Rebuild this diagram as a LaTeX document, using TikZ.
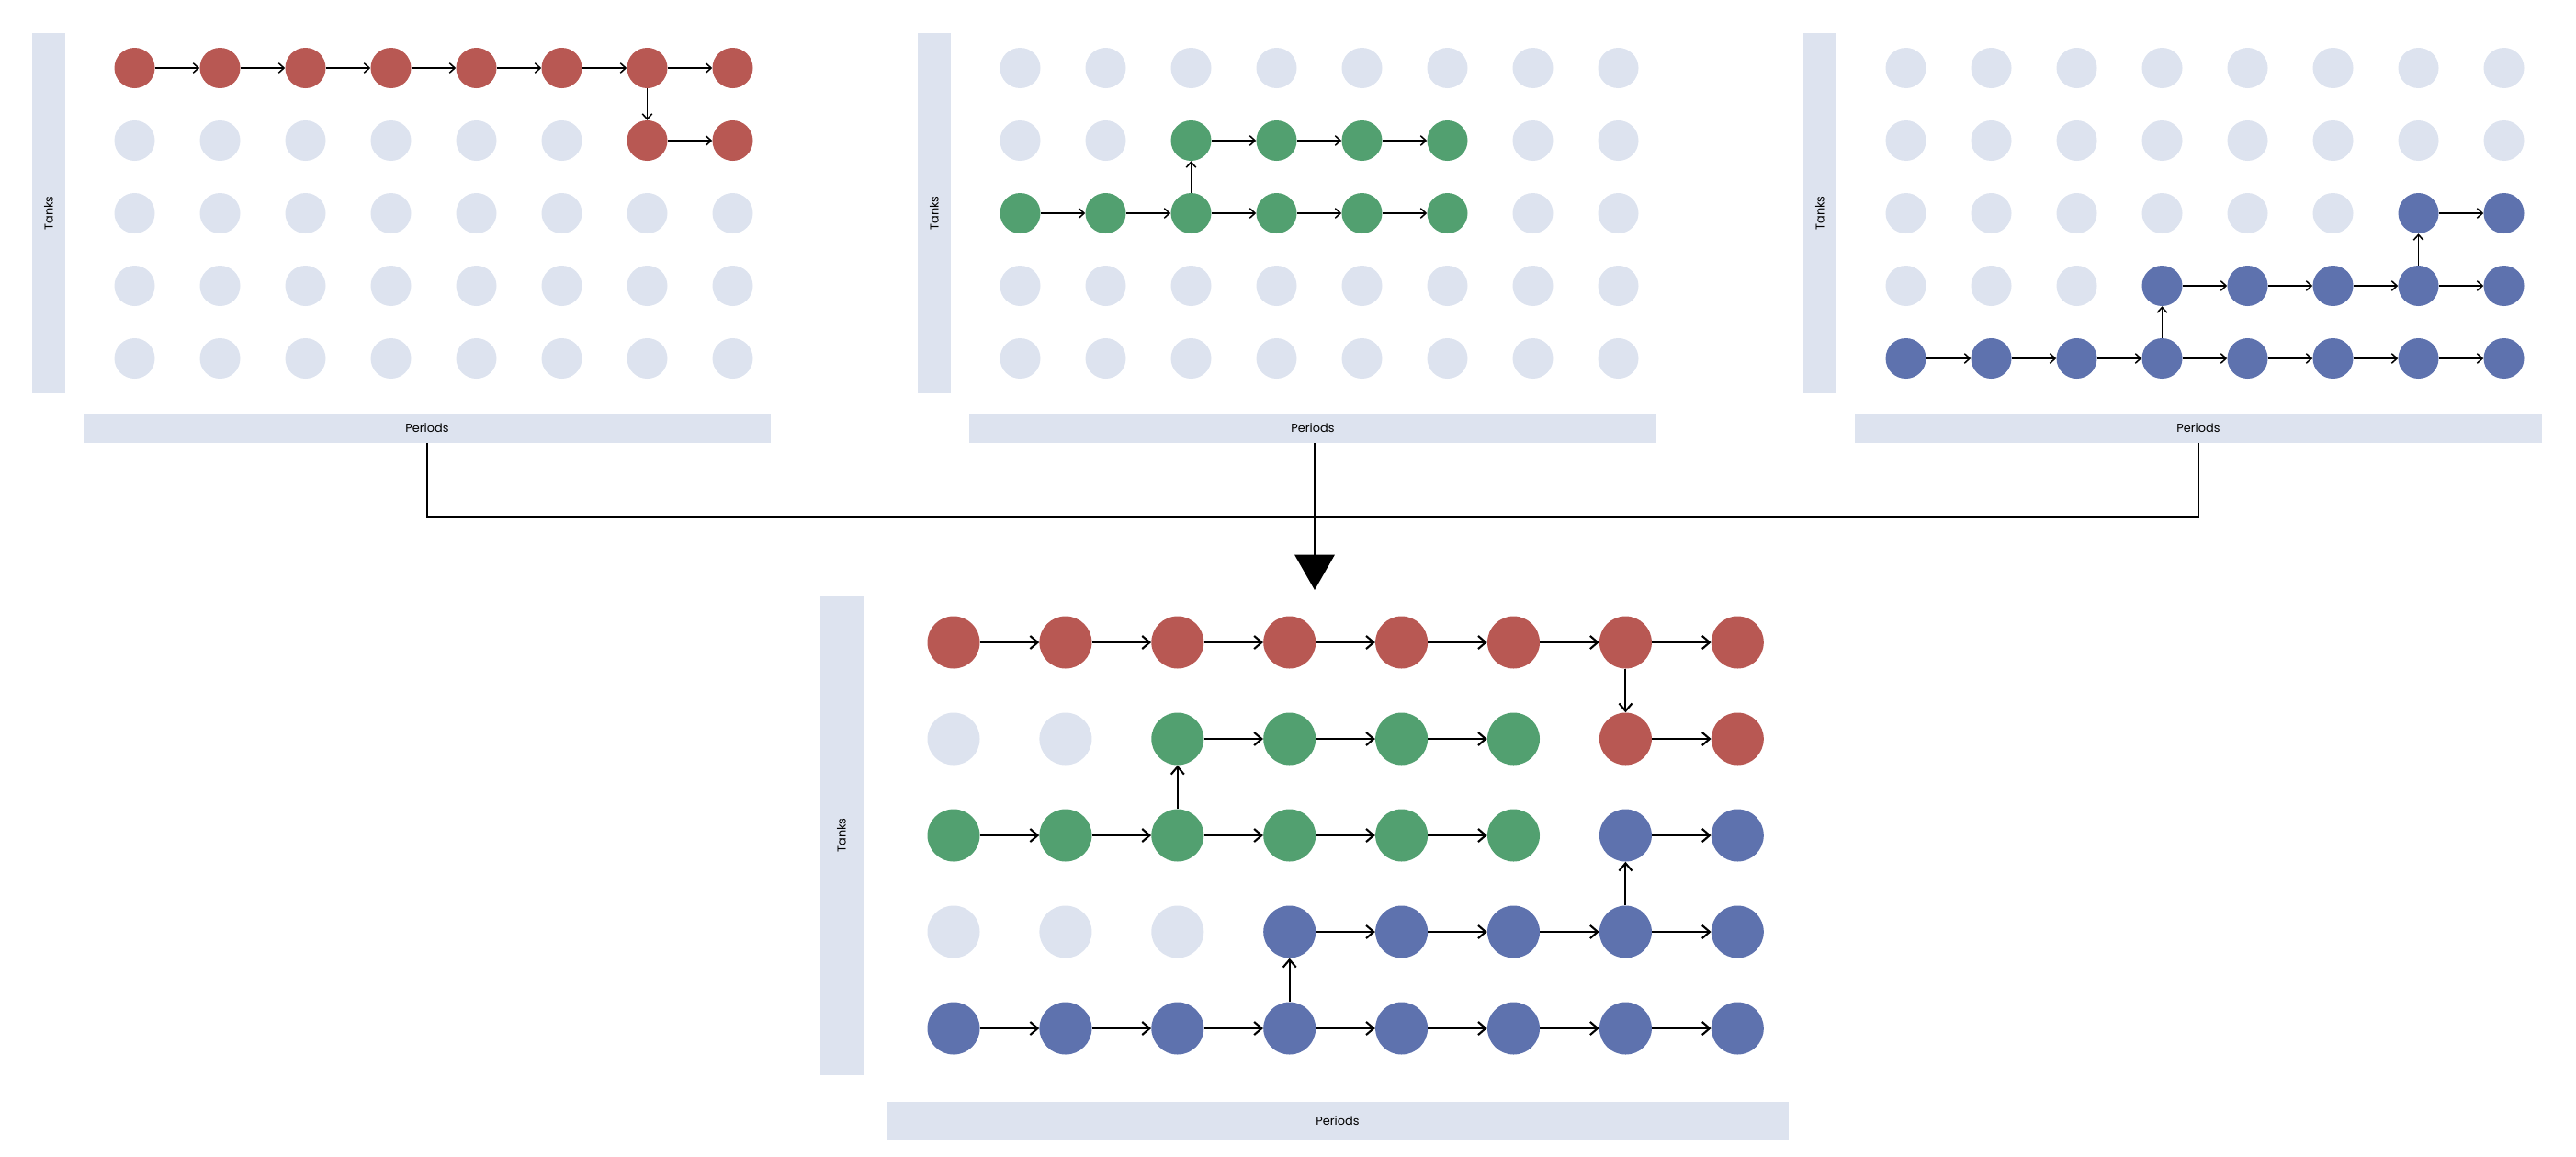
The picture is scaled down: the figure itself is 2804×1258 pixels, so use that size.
\documentclass[tikz,border=0pt]{standalone}
\usepackage{fontspec}
\setmainfont{Poppins}
\usetikzlibrary{arrows.meta}
\definecolor{cr}{HTML}{B85853}
\definecolor{cg}{HTML}{52A070}
\definecolor{cb}{HTML}{5E72AE}
\definecolor{cl}{HTML}{DDE3EF}
\begin{document}
\begin{tikzpicture}[x=0.03cm,y=-0.03cm,
  sdot/.style={circle,inner sep=0,minimum size=1.32cm,fill=#1},
  bdot/.style={circle,inner sep=0,minimum size=1.71cm,fill=#1},
  sarr/.style={-{Straight Barb[length=5pt,width=9pt]},line width=1.3pt},
  barr/.style={-{Straight Barb[length=7pt,width=12pt]},line width=1.8pt},
  bar/.style={fill=cl,draw=none},
  lab/.style={font=\fontsize{11}{13}\selectfont}]
\useasboundingbox (0,0) rectangle (2804,1258);
% ---- top panels
\foreach \k/\col in {0/cr,1/cg,2/cb}{
  \begin{scope}[shift={(964*\k,0)}]
  \fill[cl] (35,36) rectangle (71,428);
  \node[lab,rotate=90] (tk\k) at (53,232) {Tanks};
  \fill[cl] (91,450) rectangle (839,482);
  \node[lab] (pd\k) at (465,466) {Periods};
  \end{scope}
}
% grid definitions: 0 grey, 1 colour
\def\gridA{{1,1,1,1,1,1,1,1},{0,0,0,0,0,0,1,1},{0,0,0,0,0,0,0,0},{0,0,0,0,0,0,0,0},{0,0,0,0,0,0,0,0}}
\foreach \r/\row in {0/{1,1,1,1,1,1,1,1},1/{0,0,0,0,0,0,1,1},2/{0,0,0,0,0,0,0,0},3/{0,0,0,0,0,0,0,0},4/{0,0,0,0,0,0,0,0}}{
  \foreach \v [count=\c from 0] in \row{
    \ifnum\v=1 \node[sdot=cr] (a-\r-\c) at (146.5+93*\c,74+79*\r) {};
    \else \node[sdot=cl] (a-\r-\c) at (146.5+93*\c,74+79*\r) {}; \fi }}
\foreach \r/\row in {0/{0,0,0,0,0,0,0,0},1/{0,0,1,1,1,1,0,0},2/{1,1,1,1,1,1,0,0},3/{0,0,0,0,0,0,0,0},4/{0,0,0,0,0,0,0,0}}{
  \foreach \v [count=\c from 0] in \row{
    \ifnum\v=1 \node[sdot=cg] (b-\r-\c) at (1110.5+93*\c,74+79*\r) {};
    \else \node[sdot=cl] (b-\r-\c) at (1110.5+93*\c,74+79*\r) {}; \fi }}
\foreach \r/\row in {0/{0,0,0,0,0,0,0,0},1/{0,0,0,0,0,0,0,0},2/{0,0,0,0,0,0,1,1},3/{0,0,0,1,1,1,1,1},4/{1,1,1,1,1,1,1,1}}{
  \foreach \v [count=\c from 0] in \row{
    \ifnum\v=1 \node[sdot=cb] (c-\r-\c) at (2074.5+93*\c,74+79*\r) {};
    \else \node[sdot=cl] (c-\r-\c) at (2074.5+93*\c,74+79*\r) {}; \fi }}
% top arrows
\foreach \i [evaluate=\i as \j using int(\i+1)] in {0,...,6} \draw[sarr] (a-0-\i) -- (a-0-\j);
\draw[sarr] (a-0-6) -- (a-1-6); \draw[sarr] (a-1-6) -- (a-1-7);
\foreach \i [evaluate=\i as \j using int(\i+1)] in {0,...,4} \draw[sarr] (b-2-\i) -- (b-2-\j);
\draw[sarr] (b-2-2) -- (b-1-2);
\foreach \i [evaluate=\i as \j using int(\i+1)] in {2,3,4} \draw[sarr] (b-1-\i) -- (b-1-\j);
\foreach \i [evaluate=\i as \j using int(\i+1)] in {0,...,6} \draw[sarr] (c-4-\i) -- (c-4-\j);
\draw[sarr] (c-4-3) -- (c-3-3);
\foreach \i [evaluate=\i as \j using int(\i+1)] in {3,...,6} \draw[sarr] (c-3-\i) -- (c-3-\j);
\draw[sarr] (c-3-6) -- (c-2-6); \draw[sarr] (c-2-6) -- (c-2-7);
% ---- bottom panel
\fill[cl] (893,648) rectangle (940,1170);
\node[lab,rotate=90] (tkB) at (916,909) {Tanks};
\fill[cl] (966,1199) rectangle (1947,1241);
\node[lab] (pdB) at (1456,1220) {Periods};
\foreach \r/\row in {0/{1,1,1,1,1,1,1,1},1/{0,0,2,2,2,2,1,1},2/{2,2,2,2,2,2,3,3},3/{0,0,0,3,3,3,3,3},4/{3,3,3,3,3,3,3,3}}{
  \foreach \v [count=\c from 0] in \row{
    \ifcase\v \def\cc{cl}\or\def\cc{cr}\or\def\cc{cg}\or\def\cc{cb}\fi
    \node[bdot=\cc] (m-\r-\c) at (1038+121.9*\c,699+105*\r) {}; }}
\foreach \i [evaluate=\i as \j using int(\i+1)] in {0,...,6} \draw[barr] (m-0-\i) -- (m-0-\j);
\draw[barr] (m-0-6) -- (m-1-6); \draw[barr] (m-1-6) -- (m-1-7);
\foreach \i [evaluate=\i as \j using int(\i+1)] in {2,3,4} \draw[barr] (m-1-\i) -- (m-1-\j);
\draw[barr] (m-2-2) -- (m-1-2);
\foreach \i [evaluate=\i as \j using int(\i+1)] in {0,...,4} \draw[barr] (m-2-\i) -- (m-2-\j);
\draw[barr] (m-2-6) -- (m-2-7);
\draw[barr] (m-3-6) -- (m-2-6);
\foreach \i [evaluate=\i as \j using int(\i+1)] in {3,...,6} \draw[barr] (m-3-\i) -- (m-3-\j);
\draw[barr] (m-4-3) -- (m-3-3);
\foreach \i [evaluate=\i as \j using int(\i+1)] in {0,...,6} \draw[barr] (m-4-\i) -- (m-4-\j);
% ---- merge connector
\coordinate (j0) at (465,563); \coordinate (j2) at (2393,563); \coordinate (jm) at (1431,563);
\coordinate (tip) at (1431,642);
\draw[line width=1.8pt] (465,482) -- (j0) -- (j2) -- (2393,482);
\draw[line width=1.8pt] (1431,482) -- (jm);
\draw[line width=1.8pt,-{Triangle[length=1.15cm,width=1.3cm]}] (jm) -- (tip);
\end{tikzpicture}
\end{document}
